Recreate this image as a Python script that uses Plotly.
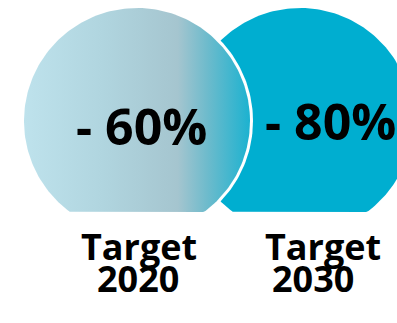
import numpy as np
import plotly.graph_objects as go

# Data
categories = ["Target 2020", "Target 2030"]
reductions = [-60, -80]
label_line1 = ["Target", "Target"]
label_line2 = ["2020", "2030"]

W, H = 397, 323
R = 113
centers = [(137, 121), (300, 121)]
cut_y = 212

def circle(cx, cy, r, n=240):
    t = np.linspace(0, 2 * np.pi, n)
    x = cx + r * np.cos(t)
    y = np.minimum(cy + r * np.sin(t), cut_y)
    return x, y

fig = go.Figure()

# right circle (solid)
x, y = circle(*centers[1], R)
fig.add_trace(go.Scatter(x=x, y=y, fill="toself", mode="lines", line=dict(width=0),
                         fillcolor="#00aed0", hoverinfo="skip", showlegend=False))
# white ring
x, y = circle(*centers[0], R + 3)
fig.add_trace(go.Scatter(x=x, y=y, fill="toself", mode="lines", line=dict(width=0),
                         fillcolor="white", hoverinfo="skip", showlegend=False))
# left circle gradient
x, y = circle(*centers[0], R)
fig.add_trace(go.Scatter(x=x, y=y, fill="toself", mode="lines", line=dict(width=0),
                         fillgradient=dict(type="horizontal",
                                           colorscale=[[0, "#bee2ec"], [0.35, "#b0d5df"],
                                                       [0.68, "#a5c5cf"], [0.81, "#6ebbcc"],
                                                       [1, "#1cb2d0"]]),
                         hoverinfo="skip", showlegend=False))

font_big = dict(family="Open Sans", size=50, color="black", weight="bold")
font_lab = dict(family="Open Sans", size=36, color="black", weight="bold")

val_pos = [(141, 126), (330, 121)]
for v, (px, py) in zip(reductions, val_pos):
    fig.add_annotation(x=px, y=py, text=f"- {abs(v)}%", showarrow=False,
                       font=font_big, xanchor="center", yanchor="middle")

l1_pos = [(139, 246), (323, 246)]
l2_pos = [(138, 278), (313, 278)]
for t1, t2, p1, p2 in zip(label_line1, label_line2, l1_pos, l2_pos):
    fig.add_annotation(x=p1[0], y=p1[1], text=t1, showarrow=False, font=font_lab,
                       xanchor="center", yanchor="middle", borderpad=0)
    fig.add_annotation(x=p2[0], y=p2[1], text=t2, showarrow=False, font=font_lab,
                       xanchor="center", yanchor="middle", borderpad=0)

fig.update_layout(width=W, height=H, margin=dict(l=0, r=0, t=0, b=0),
                  paper_bgcolor="white", plot_bgcolor="white",
                  xaxis=dict(range=[0, W], visible=False, fixedrange=True),
                  yaxis=dict(range=[H, 0], visible=False, fixedrange=True))
fig.write_html("out.html", config={"displayModeBar": False})
